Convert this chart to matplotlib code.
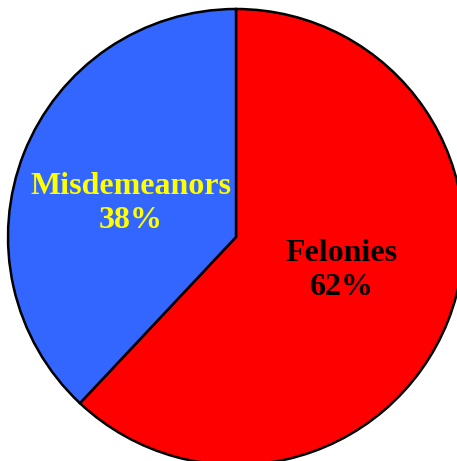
import matplotlib.pyplot as plt
import numpy as np

# data
categories = ['Felonies', 'Misdemeanors']
shares = [62, 38]
colors = ['#ff0000', '#3366ff']
text_colors = ['black', '#ffff00']

fig = plt.figure(figsize=(4.57, 4.61), dpi=100)
ax = fig.add_axes([0, 0, 1, 1])

wedges, _ = ax.pie(shares, colors=colors, startangle=90, counterclock=False,
                   radius=1.0,
                   wedgeprops=dict(edgecolor='black', linewidth=1.8))

# place labels inside each wedge
for w, name, val, tc in zip(wedges, categories, shares, text_colors):
    mid = np.deg2rad((w.theta1 + w.theta2) / 2 + 4)
    r = 0.485
    ax.text(r * np.cos(mid), r * np.sin(mid), f'{name}\n{val}%',
            ha='center', va='center', color=tc, fontsize=23,
            fontweight='bold', family='Liberation Serif', linespacing=1.25)

# pie centre sits left/up of figure centre and is clipped right/bottom
ax.set_xlim(-236 / 228, 221 / 228)
ax.set_ylim(-224 / 228, 237 / 228)
ax.set_aspect('equal')
ax.axis('off')

plt.savefig('out.png', dpi=100)
